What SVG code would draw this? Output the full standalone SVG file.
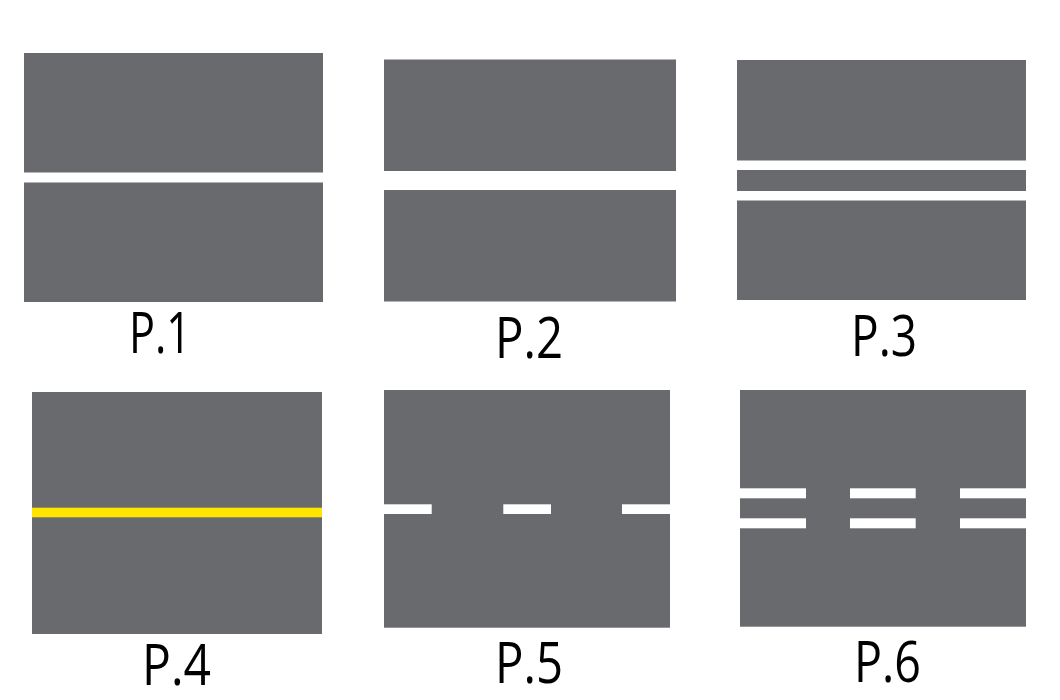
<svg xmlns="http://www.w3.org/2000/svg" width="1060" height="700" viewBox="0 0 1060 700">
<style>
.road{fill:#696a6e}
.white{fill:#ffffff}
.yellow{fill:#ffe500}
.lbl{font-family:"Open Sans","Noto Sans",sans-serif;font-size:57px;fill:#000000}
</style>
<rect width="1060" height="700" fill="#ffffff"/>
<g id="p1">
<rect class="road" x="24" y="53" width="299" height="119.5"/>
<rect class="road" x="24" y="182.5" width="299" height="119.5"/>
<text class="lbl" x="129" y="353" textLength="62" lengthAdjust="spacingAndGlyphs">P.1</text>
</g>
<g id="p2">
<rect class="road" x="384" y="59.5" width="292" height="111.5"/>
<rect class="road" x="384" y="190" width="292" height="111.5"/>
<text class="lbl" x="495" y="358" textLength="68" lengthAdjust="spacingAndGlyphs">P.2</text>
</g>
<g id="p3">
<rect class="road" x="737" y="60" width="289" height="100.5"/>
<rect class="road" x="737" y="170" width="289" height="21"/>
<rect class="road" x="737" y="200.5" width="289" height="99.5"/>
<text class="lbl" x="851" y="356" textLength="66" lengthAdjust="spacingAndGlyphs">P.3</text>
</g>
<g id="p4">
<rect class="road" x="32" y="392" width="290" height="242"/>
<rect class="yellow" x="32" y="507.7" width="290" height="9.6"/>
<text class="lbl" x="142" y="685" textLength="69" lengthAdjust="spacingAndGlyphs">P.4</text>
</g>
<g id="p5">
<rect class="road" x="384" y="390" width="286" height="237.7"/>
<rect class="white" x="384" y="504.3" width="47.7" height="9.7"/>
<rect class="white" x="503.3" y="504.3" width="47.7" height="9.7"/>
<rect class="white" x="622" y="504.3" width="48" height="9.7"/>
<text class="lbl" x="495" y="683" textLength="68" lengthAdjust="spacingAndGlyphs">P.5</text>
</g>
<g id="p6">
<rect class="road" x="740" y="390" width="286" height="236.7"/>
<rect class="white" x="740" y="488.3" width="66" height="10"/>
<rect class="white" x="740" y="518.3" width="66" height="10"/>
<rect class="white" x="850" y="488.3" width="65.7" height="10"/>
<rect class="white" x="850" y="518.3" width="65.7" height="10"/>
<rect class="white" x="960" y="488.3" width="66" height="10"/>
<rect class="white" x="960" y="518.3" width="66" height="10"/>
<text class="lbl" x="854" y="681.7" textLength="67" lengthAdjust="spacingAndGlyphs">P.6</text>
</g>
<g id="connectors"/>
</svg>
